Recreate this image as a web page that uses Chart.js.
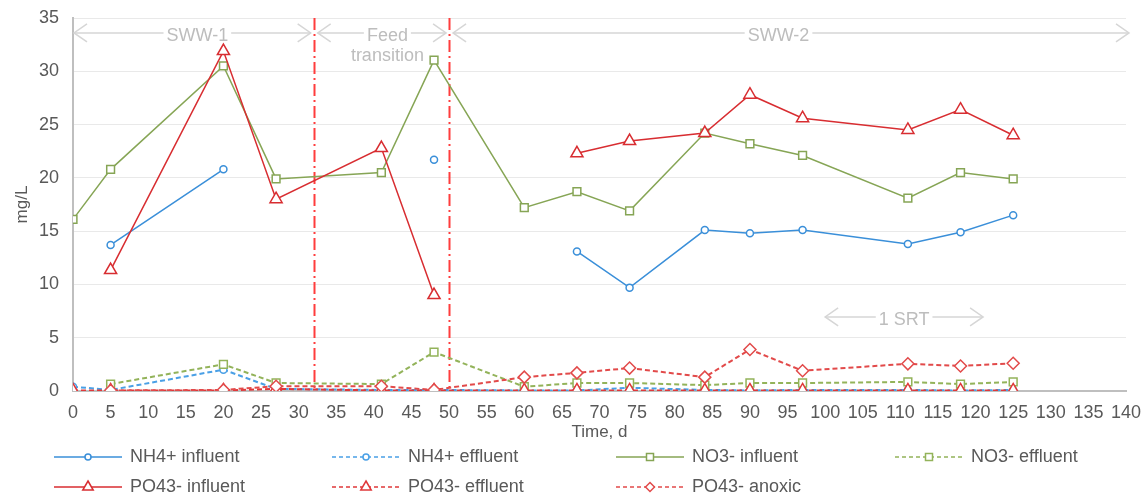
<!DOCTYPE html>
<html>
<head>
<meta charset="utf-8">
<script src="https://cdn.jsdelivr.net/npm/chart.js@4.4.1/dist/chart.umd.min.js"></script>
<style>
  html, body { margin: 0; padding: 0; background: #fff; }
  #wrap { width: 1148px; height: 501px; }
</style>
</head>
<body>
<div id="wrap"><canvas id="lineCanvas"></canvas></div>
<script>
// sampling days
const days = [0, 5, 20, 27, 41, 48, 60, 67, 74, 84, 90, 97, 111, 118, 125];

// mg/L, null = not measured
const nh4Influent = [null, 13.7, 20.8, null, null, 21.7, null, 13.1, 9.7, 15.1, 14.8, 15.1, 13.8, 14.9, 16.5];
const nh4Effluent = [0.4, 0.1, 2.0, 0.2, 0.1, 0.1, 0.05, 0.05, 0.3, 0.1, 0.05, 0.1, 0.1, 0.05, 0.1];
const no3Influent = [16.1, 20.8, 30.5, 19.9, 20.5, 31.05, 17.2, 18.7, 16.9, 24.2, 23.2, 22.1, 18.1, 20.5, 19.9];
const no3Effluent = [null, 0.65, 2.5, 0.75, 0.65, 3.65, 0.4, 0.75, 0.75, 0.55, 0.75, 0.75, 0.85, 0.65, 0.85];
const po4Influent = [null, 11.35, 31.9, 18.0, 22.8, 9.0, null, 22.3, 23.45, 24.2, 27.8, 25.6, 24.5, 26.4, 24.0];
const po4Effluent = [0.05, 0.05, 0.05, 0.2, 0.05, 0.05, 0.05, 0.05, 0.05, 0.05, 0.05, 0.05, 0.05, 0.05, 0.05];
const po4Anoxic = [null, 0.05, 0.1, 0.45, 0.45, 0.1, 1.3, 1.7, 2.15, 1.3, 3.9, 1.9, 2.55, 2.35, 2.6];

// phase boundaries (days)
const phaseBounds = [32, 50];
const xMax = 140;

const toPoints = vals => days.map((d, i) => ({ x: d, y: vals[i] }));

function series(label, vals, color, dashed, style, radius) {
    return {
        label: label,
        data: toPoints(vals),
        borderColor: color,
        borderWidth: dashed ? 2 : 1.5,
        borderDash: dashed ? [5, 3] : [],
        pointStyle: style,
        pointRadius: radius,
        pointBackgroundColor: '#ffffff',
        pointBorderColor: color,
        pointBorderWidth: 1.5,
        spanGaps: false,
        tension: 0,
    };
}

const datasets = [
    series('NH4+ influent', nh4Influent, '#3a8fd9', false, 'circle', 3.5),
    series('NH4+ effluent', nh4Effluent, '#4aa0e6', true, 'circle', 3.5),
    series('NO3- influent', no3Influent, '#86a555', false, 'rect', 5.5),
    series('NO3- effluent', no3Effluent, '#93b35a', true, 'rect', 5.5),
    series('PO43- influent', po4Influent, '#d82d31', false, 'triangle', 7),
    series('PO43- effluent', po4Effluent, '#e0383a', true, 'triangle', 7),
    series('PO43- anoxic', po4Anoxic, '#e24a4a', true, 'rectRot', 6),
];
datasets.forEach((d, i) => { d.order = datasets.length - i; });

function marker(ctx, style, x, y, r) {
    ctx.beginPath();
    if (style === 'circle') {
        ctx.arc(x, y, r, 0, Math.PI * 2);
    } else if (style === 'rect') {
        ctx.rect(x - r, y - r, 2 * r, 2 * r);
    } else if (style === 'triangle') {
        ctx.moveTo(x, y - r);
        ctx.lineTo(x + r * 0.87, y + r * 0.5);
        ctx.lineTo(x - r * 0.87, y + r * 0.5);
        ctx.closePath();
    } else {
        ctx.moveTo(x - r, y);
        ctx.lineTo(x, y - r);
        ctx.lineTo(x + r, y);
        ctx.lineTo(x, y + r);
        ctx.closePath();
    }
    ctx.fill();
    ctx.stroke();
}

function arrowHead(ctx, x, y, dir) {
    ctx.beginPath();
    ctx.moveTo(x - dir * 13, y - 9);
    ctx.lineTo(x, y);
    ctx.lineTo(x - dir * 13, y + 9);
    ctx.stroke();
}

// double arrow with label in the middle
function spanArrow(ctx, x1, x2, y, lines, cx) {
    ctx.save();
    ctx.strokeStyle = '#d6d6d6';
    ctx.lineWidth = 1.5;
    ctx.font = '18px "Liberation Sans", Arial, sans-serif';
    ctx.fillStyle = '#bdbdbd';
    ctx.textAlign = 'center';
    ctx.textBaseline = 'middle';
    const half = ctx.measureText(lines[0]).width / 2 + 3;
    ctx.beginPath();
    ctx.moveTo(x1, y);
    ctx.lineTo(cx - half, y);
    ctx.moveTo(cx + half, y);
    ctx.lineTo(x2, y);
    ctx.stroke();
    arrowHead(ctx, x1, y, -1);
    arrowHead(ctx, x2, y, 1);
    lines.forEach((t, i) => ctx.fillText(t, cx, y + 3 + i * 20));
    ctx.restore();
}

const phasePlugin = {
    id: 'phases',
    beforeDatasetsDraw(chart) {
        const { ctx, chartArea, scales: { x, y } } = chart;
        ctx.save();
        ctx.strokeStyle = '#ff3d3d';
        ctx.lineWidth = 2;
        ctx.setLineDash([12, 4, 2, 4]);
        phaseBounds.forEach(b => {
            const px = Math.round(x.getPixelForValue(b)) + 0.5;
            ctx.beginPath();
            ctx.moveTo(px, chartArea.top);
            ctx.lineTo(px, chartArea.bottom);
            ctx.stroke();
        });
        ctx.restore();

        const yTop = y.getPixelForValue(33.6);
        const x0 = x.getPixelForValue(0), x32 = x.getPixelForValue(32), x50 = x.getPixelForValue(50);
        spanArrow(ctx, x0 + 1, x32 - 3, yTop, ['SWW-1'], (x0 + x32) / 2 + 4);
        spanArrow(ctx, x32 + 4, x50 - 3, yTop, ['Feed', 'transition'], x.getPixelForValue(41.8));
        spanArrow(ctx, x50 + 4, x.getPixelForValue(xMax) + 3, yTop, ['SWW-2'], x.getPixelForValue(93.8));
        spanArrow(ctx, x.getPixelForValue(100), x.getPixelForValue(121), y.getPixelForValue(6.95), ['1 SRT'], x.getPixelForValue(110.5));
    }
};

const legendCols = [54, 332, 616, 895];
const legendRows = [457, 487];
const legendMarker = { circle: 3, rect: 3.5, triangle: 6, rectRot: 4.5 };

const legendPlugin = {
    id: 'bottomLegend',
    afterDraw(chart) {
        const ctx = chart.ctx;
        ctx.save();
        ctx.font = '18px "Liberation Sans", Arial, sans-serif';
        ctx.textBaseline = 'middle';
        chart.data.datasets.forEach((ds, i) => {
            const lx = legendCols[i % 4];
            const ly = legendRows[Math.floor(i / 4)];
            ctx.strokeStyle = ds.borderColor;
            ctx.lineWidth = 1.5;
            ctx.setLineDash(ds.borderDash.length ? [4, 3] : []);
            ctx.beginPath();
            ctx.moveTo(lx, ly);
            ctx.lineTo(lx + 68, ly);
            ctx.stroke();
            ctx.setLineDash([]);
            ctx.fillStyle = '#ffffff';
            marker(ctx, ds.pointStyle, lx + 34, ly, legendMarker[ds.pointStyle]);
            ctx.fillStyle = '#595959';
            ctx.fillText(ds.label, lx + 76, ly);
        });
        ctx.restore();
    }
};

const tickFont = { family: '"Liberation Sans", Arial, sans-serif', size: 18 };
const titleFont = { family: '"Liberation Sans", Arial, sans-serif', size: 17 };

const lineChart = new Chart(document.getElementById('lineCanvas'), {
    type: 'line',
    data: { datasets: datasets },
    options: {
        responsive: true,
        maintainAspectRatio: false,
        animation: false,
        devicePixelRatio: 1,
        layout: { padding: { top: 18, right: 22, bottom: 56, left: 0 } },
        plugins: { legend: { display: false }, tooltip: { enabled: false } },
        scales: {
            x: {
                type: 'linear',
                min: 0,
                max: xMax,
                ticks: { stepSize: 5, color: '#595959', font: tickFont, padding: 11, maxRotation: 0, autoSkip: false },
                grid: { drawOnChartArea: false, drawTicks: false },
                border: { color: '#bfbfbf', width: 2 },
                title: { display: true, text: 'Time, d', color: '#595959', font: titleFont, padding: { top: 0, bottom: 2 } },
                afterFit(scale) {
                    scale.height = 54;
                    scale.paddingLeft = 0;
                    scale.paddingRight = 0;
                }
            },
            y: {
                min: 0,
                max: 35,
                ticks: { stepSize: 5, color: '#595959', font: tickFont, padding: 14 },
                grid: { color: '#e9e9e9', lineWidth: 1, drawTicks: false },
                border: { color: '#bfbfbf', width: 2 },
                title: { display: true, text: 'mg/L', color: '#595959', font: titleFont, padding: { top: 12, bottom: 0 } },
                afterFit(scale) {
                    scale.width = 73;
                    scale.paddingTop = 0;
                    scale.paddingBottom = 0;
                }
            }
        }
    },
    plugins: [phasePlugin, legendPlugin]
});
</script>
</body>
</html>
